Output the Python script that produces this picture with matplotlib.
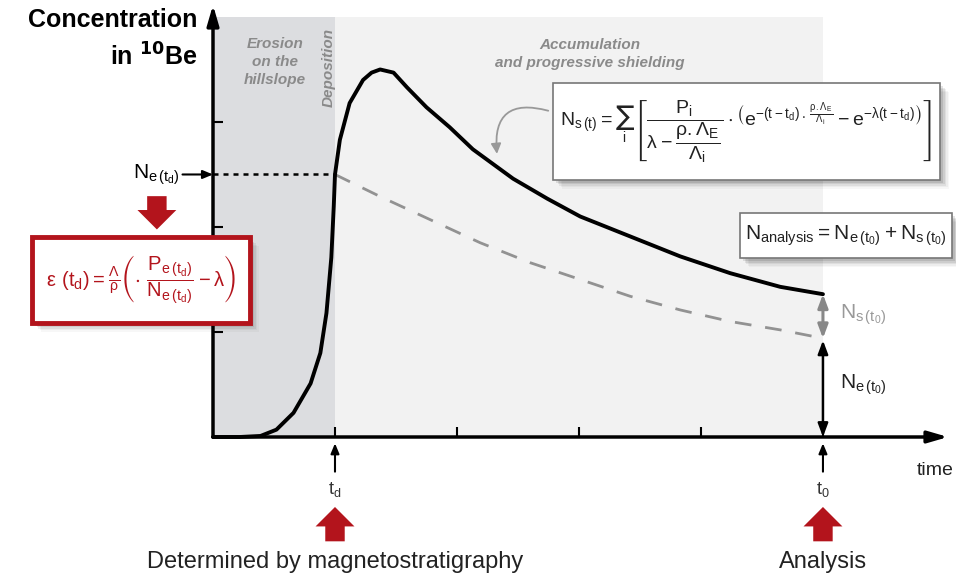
import matplotlib

matplotlib.use("Agg")
import matplotlib.pyplot as plt
from matplotlib.patches import FancyArrowPatch, Rectangle, ArrowStyle
from matplotlib.transforms import offset_copy

plt.rcParams["font.family"] = ["Liberation Sans", "DejaVu Sans"]
plt.rcParams["mathtext.fontset"] = "dejavusans"
plt.rcParams["mathtext.default"] = "regular"

# --- data (time in arbitrary units, t_d = 1, t_0 = 5) ---
t_deposition = 1.0
t_analysis = 5.0
n_e_td = 2.5

time_total = [0.00, 0.22, 0.39, 0.52, 0.66, 0.80, 0.88, 0.93, 0.97, 0.99, 1.00,
              1.04, 1.12, 1.23, 1.30, 1.37, 1.48, 1.59, 1.75, 1.94, 2.13, 2.46,
              2.74, 3.01, 3.42, 3.83, 4.24, 4.65, 5.00]
conc_total = [0.00, 0.00, 0.01, 0.07, 0.23, 0.51, 0.80, 1.18, 1.71, 2.20, 2.50,
              2.83, 3.18, 3.40, 3.47, 3.50, 3.47, 3.33, 3.14, 2.95, 2.74, 2.46,
              2.27, 2.10, 1.91, 1.72, 1.56, 1.43, 1.36]

time_inherited = [1.00, 1.37, 1.78, 2.19, 2.60, 3.01, 3.42, 3.83, 4.24, 4.65, 5.00]
conc_inherited = [2.50, 2.29, 2.07, 1.85, 1.66, 1.50, 1.34, 1.21, 1.10, 1.02, 0.94]

x_ticks = [1, 2, 3, 4, 5]
y_ticks = [1, 2, 3]

RED = "#b3141c"
GREY_TXT = "#8a8a8a"

fig = plt.figure(figsize=(9.56, 5.77), dpi=100)
ax = fig.add_axes([213 / 956, 140 / 577, 735 / 956, 432 / 577])
ax.set_xlim(0, 6.025)
ax.set_ylim(0, 4.114)
ax.patch.set_visible(False)
for s in ax.spines.values():
    s.set_visible(False)
ax.set_xticks(x_ticks)
ax.set_yticks(y_ticks)
ax.tick_params(direction="in", length=7, width=1.5, labelbottom=False, labelleft=False)

# background phases
ax.fill_between([0, t_deposition], 0, 4.0, color="#dcdde0", lw=0, zorder=0)
ax.fill_between([t_deposition, t_analysis], 0, 4.0, color="#f2f2f2", lw=0, zorder=0)

# axes as arrows
axis_arrow = dict(arrowstyle="-|>,head_width=0.35,head_length=1.2", lw=2.5, color="black",
                  shrinkA=0, shrinkB=0)
ax.annotate("", xy=(0, 4.114), xytext=(0, 0), arrowprops=axis_arrow, annotation_clip=False, zorder=3)
ax.annotate("", xy=(6.025, 0), xytext=(0, 0), arrowprops=axis_arrow, annotation_clip=False, zorder=3)

# curves
ax.plot(time_total, conc_total, color="black", lw=2.8, solid_capstyle="round",
        solid_joinstyle="round", zorder=5, clip_on=False)
ax.plot(time_inherited, conc_inherited, color="#929292", lw=2, dashes=(6, 5), zorder=4)
ax.plot([0, t_deposition], [n_e_td, n_e_td], color="black", lw=1.8, dashes=(2, 2), zorder=4)


def shadow(x0, y0, x1, y1, z):
    for i, a in enumerate([0.10, 0.08, 0.06, 0.04, 0.03]):
        tr = offset_copy(ax.transData, fig=fig, x=3 + 1.5 * i, y=-(3 + 1.5 * i), units="dots")
        ax.add_patch(Rectangle((x0, y0), x1 - x0, y1 - y0, transform=tr, facecolor="black",
                               alpha=a, lw=0, zorder=z, clip_on=False))


def box(x0, y0, x1, y1, edge, lw, z):
    shadow(x0, y0, x1, y1, z)
    ax.add_patch(Rectangle((x0, y0), x1 - x0, y1 - y0, facecolor="white", edgecolor=edge,
                           lw=lw, zorder=z + 0.5, clip_on=False))


# phase labels
lab = dict(color=GREY_TXT, fontweight="bold", fontstyle="italic", fontsize=11, ha="center",
           va="center", zorder=6)
ax.text(0.51, 3.57, "Erosion\non the\nhillslope", linespacing=1.35, **lab)
ax.text(0.95, 3.52, "Deposition", rotation=90, **lab)
ax.text(3.09, 3.65, "Accumulation\nand progressive shielding", linespacing=1.4, **lab)

# y label
ax.text(-0.13, 3.97, "Concentration", fontsize=18, fontweight="bold", ha="right", va="center")
ax.text(-0.13, 3.62, r"in $\mathbf{^{10}}$Be", fontsize=18, fontweight="bold", ha="right",
        va="center")

# N_s(t) formula box
box(2.79, 2.45, 5.96, 3.37, "#777777", 1.2, 7)
ax.text(4.37, 2.91,
        r"$N_{s\,(t)} = \sum_{i}\left[\dfrac{P_i}{\lambda - \dfrac{\rho.\Lambda_E}{\Lambda_i}}"
        r"\cdot\left(e^{-(t-t_d)\,.\,\frac{\rho.\Lambda_E}{\Lambda_i}} - e^{-\lambda(t-t_d)}\right)\right]$",
        fontsize=14, ha="center", va="center", color="#222222", zorder=8)
ax.add_patch(FancyArrowPatch((2.77, 3.10), (2.33, 2.67), connectionstyle="arc3,rad=0.75",
                             arrowstyle="-|>,head_width=3,head_length=6", color="#999999",
                             lw=1.3, zorder=6, clip_on=False))

# N_analysis box
box(4.32, 1.70, 6.06, 2.13, "#777777", 1.2, 7)
ax.text(5.19, 1.915, r"$N_{analysis} = N_{e\,(t_0)} + N_{s\,(t_0)}$", fontsize=15,
        ha="center", va="center", color="#222222", zorder=8)

# N_e(t_d) label and erosion formula
ax.text(-0.27, n_e_td, r"$N_{e\,(t_d)}$", fontsize=15, ha="right", va="center")
ax.annotate("", xy=(0, n_e_td), xytext=(-0.25, n_e_td),
            arrowprops=dict(arrowstyle="-|>,head_width=0.25,head_length=0.6", lw=1.5,
                            color="black", shrinkA=0, shrinkB=0), annotation_clip=False)
block = ArrowStyle.Simple(head_length=1.0, head_width=2.0, tail_width=1.0)
ax.add_patch(FancyArrowPatch((-0.46, 2.32), (-0.46, 1.95), arrowstyle=block, mutation_scale=14,
                             color=RED, lw=0, zorder=6, clip_on=False))
box(-1.48, 1.09, 0.30, 1.90, RED, 3.5, 9)
ax.text(-0.59, 1.50,
        r"$\varepsilon\ (t_d) = \frac{\Lambda}{\rho}\left(\cdot\ \dfrac{P_{e\,(t_d)}}{N_{e\,(t_d)}}"
        r" - \lambda\right)$",
        fontsize=14.5, ha="center", va="center", color=RED, zorder=10)

# N_s(t0) and N_e(t0) brackets
ax.annotate("", xy=(t_analysis, conc_total[-1]), xytext=(t_analysis, conc_inherited[-1]),
            arrowprops=dict(arrowstyle="<|-|>,head_width=0.3,head_length=0.8", lw=2.2,
                            color="#888888", shrinkA=0, shrinkB=0), zorder=6)
ax.annotate("", xy=(t_analysis, conc_inherited[-1] - 0.02), xytext=(t_analysis, 0),
            arrowprops=dict(arrowstyle="<|-|>,head_width=0.3,head_length=0.8", lw=1.8,
                            color="black", shrinkA=0, shrinkB=0), zorder=6)
ax.text(5.14, 1.16, r"$N_{s\,(t_0)}$", fontsize=15, color="#999999", ha="left", va="center")
ax.text(5.14, 0.50, r"$N_{e\,(t_0)}$", fontsize=15, color="#222222", ha="left", va="center")

# time axis annotations
small_up = dict(arrowstyle="-|>,head_width=0.25,head_length=0.6", lw=1.5, color="black",
                shrinkA=0, shrinkB=0)
for tx, lbl, txt in [(t_deposition, r"$t_d$", "Determined by magnetostratigraphy"),
                     (t_analysis, r"$t_0$", "Analysis")]:
    ax.annotate("", xy=(tx, -0.06), xytext=(tx, -0.33), arrowprops=small_up, annotation_clip=False)
    ax.text(tx, -0.50, lbl, fontsize=13, color="#333333", ha="center", va="center")
    ax.add_patch(FancyArrowPatch((tx, -1.02), (tx, -0.64), arrowstyle=block, mutation_scale=14,
                                 color=RED, lw=0, clip_on=False))
    ax.text(tx, -1.19, txt, fontsize=17, ha="center", va="center", color="#222222")

ax.text(5.92, -0.32, "time", fontsize=14, ha="center", va="center", color="#222222")

fig.savefig("out.png", dpi=100)
